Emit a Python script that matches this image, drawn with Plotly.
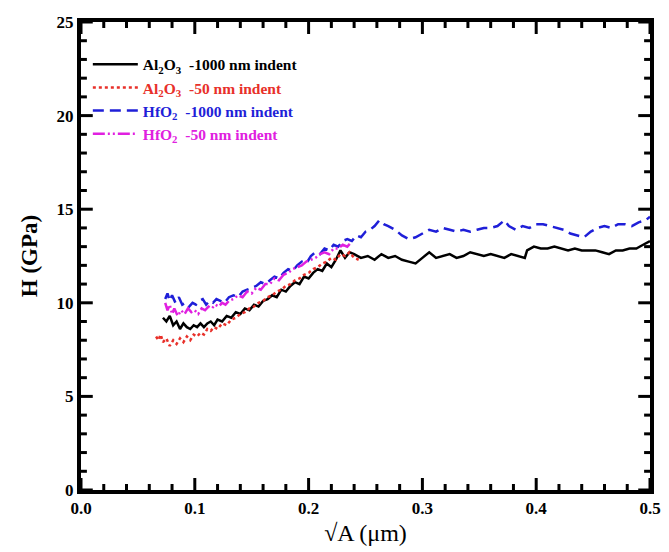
import plotly.graph_objects as go

# Al2O3 - 1000 nm indent
x_al1000 = [0.072,0.075,0.078,0.081,0.084,0.087,0.090,0.093,0.096,0.099,0.102,0.105,0.108,0.111,0.114,0.117,0.120,0.124,0.128,0.132,
            0.136,0.140,0.144,0.148,0.152,0.156,0.160,0.164,0.168,0.172,0.176,0.180,0.184,0.188,0.192,0.196,0.200,0.204,0.208,0.212,
            0.216,0.220,0.224,0.228,0.232,0.236,0.240,0.246,0.252,0.258,0.264,0.270,0.276,0.282,0.288,0.294,0.300,0.306,0.312,0.318,
            0.324,0.330,0.336,0.342,0.348,0.354,0.360,0.366,0.372,0.378,0.384,0.390,0.392,0.398,0.404,0.410,0.416,0.422,0.428,0.434,
            0.440,0.446,0.452,0.458,0.464,0.470,0.476,0.482,0.488,0.494,0.500]
h_al1000 = [9.2,9.0,9.3,8.8,9.0,8.6,8.9,8.7,8.6,8.8,8.7,8.9,8.7,8.9,9.0,8.8,9.1,9.0,9.3,9.2,
            9.5,9.4,9.7,9.6,9.9,9.8,10.1,10.2,10.4,10.3,10.7,10.6,10.9,11.1,11.0,11.4,11.3,11.6,11.8,11.7,
            12.1,11.9,12.3,12.8,12.4,12.7,12.6,12.4,12.5,12.3,12.6,12.4,12.5,12.3,12.2,12.1,12.4,12.7,12.4,12.5,
            12.6,12.4,12.5,12.7,12.6,12.5,12.6,12.5,12.4,12.6,12.5,12.4,12.8,13.0,12.9,12.9,13.0,12.9,12.8,12.9,
            12.8,12.8,12.8,12.7,12.6,12.8,12.8,12.9,12.9,13.1,13.3]

# Al2O3 - 50 nm indent
x_al50 = [0.066,0.068,0.070,0.072,0.075,0.078,0.081,0.084,0.087,0.090,0.093,0.096,0.099,0.102,0.105,0.108,0.111,0.114,0.117,0.120,
          0.124,0.128,0.132,0.136,0.140,0.144,0.148,0.152,0.156,0.160,0.164,0.168,0.172,0.176,0.180,0.184,0.188,0.192,0.196,0.200,
          0.204,0.208,0.212,0.216,0.220,0.224,0.228,0.232,0.236,0.240,0.244]
h_al50 = [8.2,8.0,8.3,7.9,8.1,7.7,8.0,7.8,8.1,7.9,8.2,8.0,8.3,8.2,8.4,8.3,8.6,8.5,8.7,8.6,
          8.9,8.8,9.1,9.2,9.4,9.5,9.7,9.8,10.0,10.1,10.3,10.4,10.6,10.7,10.9,11.0,11.2,11.3,11.5,11.6,
          11.8,11.9,12.1,12.2,12.4,12.3,12.6,12.5,12.7,12.4,12.3]

# HfO2 - 1000 nm indent
x_hf1000 = [0.074,0.076,0.078,0.080,0.083,0.086,0.089,0.092,0.095,0.098,0.101,0.104,0.107,0.110,0.113,0.116,0.119,0.122,0.126,0.130,
            0.134,0.138,0.142,0.146,0.150,0.154,0.158,0.162,0.166,0.170,0.174,0.178,0.182,0.186,0.190,0.194,0.198,0.202,0.206,0.210,
            0.214,0.218,0.222,0.226,0.230,0.234,0.238,0.242,0.246,0.250,0.254,0.258,0.262,0.266,0.270,0.276,0.282,0.288,0.294,0.300,
            0.306,0.312,0.318,0.324,0.330,0.336,0.342,0.348,0.354,0.360,0.366,0.372,0.376,0.382,0.388,0.394,0.400,0.406,0.412,0.418,
            0.424,0.430,0.436,0.442,0.448,0.454,0.460,0.466,0.472,0.478,0.484,0.490,0.496,0.500]
h_hf1000 = [10.2,10.5,10.1,10.4,10.0,10.3,9.9,10.0,9.8,10.0,9.9,10.1,10.2,9.9,10.1,10.0,10.2,10.1,10.0,10.3,
            10.4,10.3,10.6,10.7,10.8,10.9,11.1,11.0,11.2,11.4,11.3,11.6,11.8,11.7,12.0,12.2,12.1,12.5,12.7,12.6,
            12.9,12.8,13.1,13.0,13.3,13.4,13.3,13.6,13.5,13.8,13.9,14.1,14.4,14.2,14.1,13.9,13.6,13.4,13.5,13.7,
            13.9,13.8,14.0,13.9,13.8,13.9,13.8,13.9,14.0,14.0,14.1,14.4,14.1,13.9,14.1,14.0,14.2,14.2,14.1,14.0,
            13.9,13.7,13.6,13.5,13.8,14.0,14.1,14.0,14.2,14.2,14.1,14.3,14.4,14.6]

# HfO2 - 50 nm indent
x_hf50 = [0.074,0.076,0.078,0.080,0.082,0.085,0.088,0.091,0.094,0.097,0.100,0.103,0.106,0.109,0.112,0.115,0.118,0.121,0.124,0.127,
          0.130,0.134,0.138,0.142,0.146,0.150,0.154,0.158,0.162,0.166,0.170,0.174,0.178,0.182,0.186,0.190,0.194,0.198,0.202,0.206,
          0.210,0.214,0.218,0.222,0.226,0.230,0.234,0.237]
h_hf50 = [10.0,9.6,9.9,9.4,9.7,9.3,9.6,9.4,9.7,9.5,9.6,9.4,9.7,9.6,9.8,9.7,9.9,9.8,10.0,9.9,
          10.1,10.2,10.4,10.3,10.6,10.5,10.8,10.7,11.0,11.0,11.3,11.2,11.5,11.6,11.8,11.9,12.0,12.2,12.3,12.4,
          12.6,12.7,12.6,12.9,12.9,13.1,13.0,13.2]

# axis tick values
x_major = [0.0, 0.1, 0.2, 0.3, 0.4, 0.5]
x_minor = [round(0.02 * i, 2) for i in range(26)]
y_major = [0, 5, 10, 15, 20, 25]
y_minor = list(range(26))

names = ["Al<sub>2</sub>O<sub>3</sub>  -1000 nm indent",
         "Al<sub>2</sub>O<sub>3</sub>  -50 nm indent",
         "HfO<sub>2</sub>  -1000 nm indent",
         "HfO<sub>2</sub>  -50 nm indent"]
colors = ["#000000", "#e8302a", "#1f1fd8", "#e020e0"]
dashes = ["solid", "dot", "11px,6px", "12px,3px,2px,3px,2px,3px"]
series = [(x_al1000, h_al1000), (x_al50, h_al50), (x_hf1000, h_hf1000), (x_hf50, h_hf50)]

for xs, ys in series:
    assert len(xs) == len(ys), (len(xs), len(ys))

W, H = 669, 552
ML, MR, MT, MB = 81, 8, 22, 62
x_lo, x_hi = 0.0, 0.5
y_lo, y_hi = 0, 25
px_x = (x_hi - x_lo) / (W - ML - MR)   # data units per pixel
px_y = (y_hi - y_lo) / (H - MT - MB)

fig = go.Figure()
for (xs, ys), nm, c, d in zip(series, names, colors, dashes):
    fig.add_trace(go.Scatter(
        x=xs, y=ys, mode="lines",
        name=f"<span style='color:{c}'><b>{nm}</b></span>",
        line=dict(color=c, width=2.5, dash=d),
    ))

# inside tick marks on all four sides, built from the tick values
MAJ, MIN = 12, 6
tx, ty = [], []
for xv in x_minor:
    ln = MAJ if any(abs(xv - m) < 1e-9 for m in x_major) else MIN
    tx += [xv, xv, None, xv, xv, None]
    ty += [y_lo, y_lo + ln * px_y, None, y_hi, y_hi - ln * px_y, None]
for yv in y_minor:
    ln = MAJ if yv in y_major else MIN
    tx += [x_lo, x_lo + ln * px_x, None, x_hi, x_hi - ln * px_x, None]
    ty += [yv, yv, None, yv, yv, None]
fig.add_trace(go.Scatter(x=tx, y=ty, mode="lines", line=dict(color="black", width=3),
                         showlegend=False, hoverinfo="skip", connectgaps=False))

font_family = "Liberation Serif"
tick_font = dict(family=font_family, size=17, color="black")

fig.update_xaxes(
    range=[x_lo, x_hi], tickmode="array", tickvals=x_major,
    ticktext=[f"<b>{v:.1f}</b>" for v in x_major],
    showline=True, linecolor="black", linewidth=4, mirror=True,
    ticks="", showgrid=False, zeroline=False,
    tickfont=tick_font,
    title=dict(text="<b>√</b>A (μm)", font=dict(family=font_family, size=24), standoff=8),
)
fig.update_yaxes(
    range=[y_lo, y_hi], tickmode="array", tickvals=y_major,
    ticktext=[f"<b>{v}</b>" for v in y_major],
    showline=True, linecolor="black", linewidth=4, mirror=True,
    ticks="", showgrid=False, zeroline=False,
    tickfont=tick_font,
    title=dict(text="<b>H (GPa)</b>", font=dict(family=font_family, size=23), standoff=14),
)

fig.update_layout(
    width=W, height=H,
    margin=dict(l=ML, r=MR, t=MT, b=MB),
    paper_bgcolor="white", plot_bgcolor="white",
    font=dict(family=font_family, color="black"),
    legend=dict(x=0.012, y=0.945, xanchor="left", yanchor="top",
                bgcolor="rgba(0,0,0,0)", tracegroupgap=0,
                font=dict(family=font_family, size=15.5), itemwidth=45),
    showlegend=True,
)

fig.write_html("out.html")
